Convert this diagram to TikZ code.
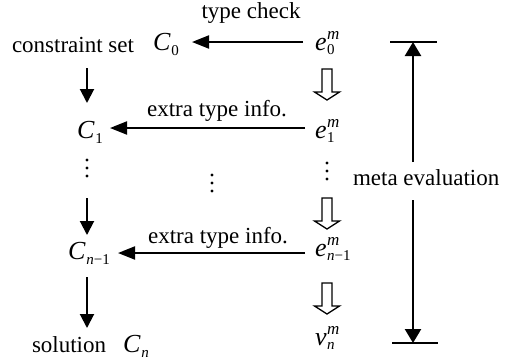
\documentclass[tikz,border=0pt]{standalone}
\usepackage{fontspec}
\setmainfont{Liberation Serif}
\usetikzlibrary{arrows.meta}
\newcommand\bigv[1]{{\fontsize{26}{26}\selectfont\itshape #1}}
\newcommand\smt[1]{{\fontsize{15}{15}\selectfont #1}}
\newcommand\smm[1]{{\fontsize{17}{17}\selectfont #1}}
\newcommand\Csub[2]{\bigv{#1}\kern1pt\raisebox{-5pt}{\smt{#2}}}
\newcommand\Esub[3]{\bigv{#1}\kern0.5pt\makebox[0pt][l]{\raisebox{11pt}{\smm{\itshape #2}}}\raisebox{-4pt}{\smt{#3}}}
\begin{document}
\begin{tikzpicture}[x=1pt,y=-1pt,
  every node/.style={inner sep=0pt,outer sep=0pt,font=\fontsize{23}{27}\selectfont},
  harr/.style={line width=2pt,-{Triangle[length=17pt,width=13pt]}},
  varr/.style={line width=2pt,-{Triangle[length=14pt,width=14pt]}},
  marr/.style={line width=2.4pt,-{Triangle[length=14pt,width=16pt]}},
  bar/.style={line width=2pt},
  hollow/.pic={\draw[line width=1.3pt,line join=miter] (-5,0) -- (5,0) -- (5,23) -- (12.5,23) -- (0,31) -- (-12.5,23) -- (-5,23) -- cycle;},
  vd/.pic={\fill (0,-8) circle[radius=1.7pt] (0,0) circle[radius=1.7pt] (0,8) circle[radius=1.7pt];}]
\useasboundingbox (0,0) rectangle (510,360);
% left column
\node[anchor=base] (cs) at (73,52) {constraint set};
\node[anchor=base west] (C0) at (153,50) {\Csub{C}{0}};
\node[anchor=base west] (C1) at (77,138) {\Csub{C}{1}};
\coordinate (dL) at (87,168);
\node[anchor=base west] (Cn1) at (68,259) {\Csub{C}{\itshape n\upshape −1}};
\node[anchor=base west] (sol) at (32,352) {solution};
\node[anchor=base west] (Cn) at (123,352) {\Csub{C}{\itshape n}};
% right column
\node[anchor=base west] (e0) at (315,50) {\Esub{e}{m}{0}};
\node[anchor=base west] (e1) at (315,138) {\Esub{e}{m}{1}};
\coordinate (dR) at (327,171);
\node[anchor=base west] (en1) at (315,256) {\Esub{e}{m}{\itshape n\upshape −1}};
\node[anchor=base west] (vn) at (315,345) {\Esub{v}{m}{\itshape n}};
% middle
\coordinate (dM) at (212,183);
\node[anchor=base] (tc) at (251,18) {type check};
\node[anchor=base] (ex1) at (217,116) {extra type info.};
\node[anchor=base] (ex2) at (218,243) {extra type info.};
% meta
\node[anchor=base west] (me) at (353,185) {meta evaluation};
\coordinate (mtop) at (413,42);
\coordinate (mbot) at (413,343);
% horizontal arrows
\draw[harr] ([shift={(-12,-8)}]e0.base west) -- ([shift={(39,-8)}]C0.base west);
\draw[harr] ([shift={(-10,-10)}]e1.base west) -- ([shift={(33,-10)}]C1.base west);
\draw[harr] ([shift={(-10,-3)}]en1.base west) -- ([shift={(50,-6)}]Cn1.base west);
% left vertical arrows
\draw[varr] ([shift={(14,16)}]cs.base) -- ([shift={(10,-35)}]C1.base west);
\draw[varr] ([shift={(0,30)}]dL) -- ([shift={(19,-24)}]Cn1.base west);
\draw[varr] ([shift={(19,18)}]Cn1.base west) -- ([shift={(55,-24)}]sol.base west);
% dots
\pic at (dL) {vd};
\pic at (dM) {vd};
\pic at (dR) {vd};
% hollow arrows
\pic at ([shift={(12,19)}]e0.base west) {hollow};
\pic at ([shift={(0,27)}]dR) {hollow};
\pic at ([shift={(12,27)}]en1.base west) {hollow};
% meta evaluation arrows
\draw[marr] ([shift={(60,-23)}]me.base west) -- (mtop);
\draw[marr] ([shift={(60,15)}]me.base west) -- (mbot);
\draw[bar] ([xshift=-23pt]mtop) -- ([xshift=24pt]mtop);
\draw[bar] ([xshift=-21pt]mbot) -- ([xshift=25pt]mbot);
\end{tikzpicture}
\end{document}
